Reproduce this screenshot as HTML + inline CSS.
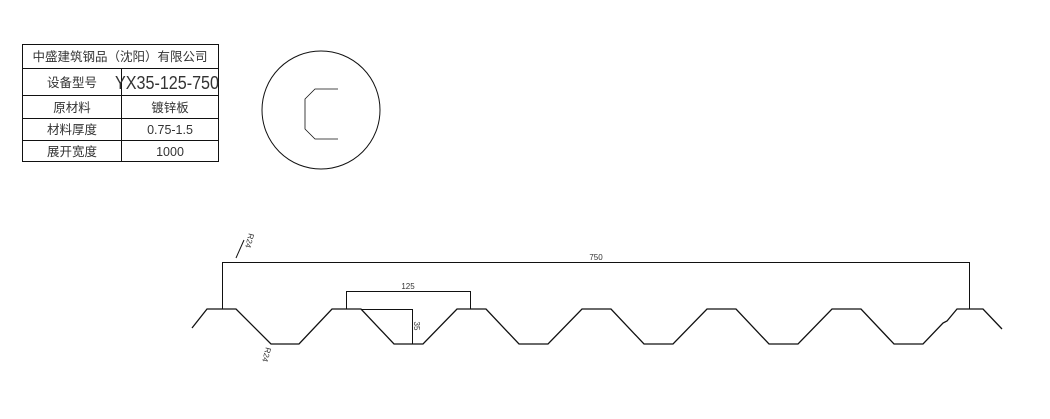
<!DOCTYPE html>
<html><head><meta charset="utf-8"><style>
body{margin:0;background:#fff;width:1050px;height:414px;overflow:hidden}
svg text{font-family:"Liberation Sans","Noto Sans CJK SC",sans-serif;fill:#333}
</style></head><body>
<svg width="1050" height="414" viewBox="0 0 1050 414">
<g stroke="#111" stroke-width="1" fill="none">
<rect x="22.5" y="44.5" width="196" height="117"/>
<line x1="22" y1="68.5" x2="218" y2="68.5"/>
<line x1="22" y1="95.5" x2="218" y2="95.5"/>
<line x1="22" y1="118.5" x2="218" y2="118.5"/>
<line x1="22" y1="140.5" x2="218" y2="140.5"/>
<line x1="121.5" y1="68" x2="121.5" y2="161"/>
<circle cx="321" cy="110" r="59"/>
<polyline points="338,89 315,89 305,99 305,129 315,139 338,139" stroke-width="0.8"/>
<polyline stroke-width="1.3" points="192,328 207,309 236,309 271,344 299,344 332,309 361,309 394,344 423,344 457,309 486,309 519,344 548,344 582,309 611,309 644,344 673,344 707,309 736,309 769,344 798,344 832,309 861,309 894,344 923,344 943,323 947,321 957,309 983,309 1002,329"/>
<line x1="222" y1="262.5" x2="969" y2="262.5"/>
<line x1="222.5" y1="262" x2="222.5" y2="309"/>
<line x1="969.5" y1="262" x2="969.5" y2="309"/>
<line x1="346" y1="291.5" x2="470" y2="291.5"/>
<line x1="346.5" y1="291" x2="346.5" y2="309"/>
<line x1="470.5" y1="291" x2="470.5" y2="309"/>
<line x1="361" y1="309.5" x2="412" y2="309.5"/>
<line x1="412.5" y1="309" x2="412.5" y2="344"/>
<line x1="236" y1="258" x2="244" y2="240"/>
</g>
<g font-size="12.5" text-anchor="middle">
<text x="120" y="61">中盛建筑钢品（沈阳）有限公司</text>
<text x="72" y="87">设备型号</text>
<text x="72" y="112">原材料</text>
<text x="170" y="112">镀锌板</text>
<text x="72" y="134">材料厚度</text>
<text x="170" y="134">0.75-1.5</text>
<text x="72" y="156">展开宽度</text>
<text x="170" y="156">1000</text>
</g>
<text x="115" y="89" font-size="18" textLength="104" lengthAdjust="spacingAndGlyphs">YX35-125-750</text>
<g font-size="8" text-anchor="middle">
<text x="596" y="260">750</text>
<text x="408" y="289">125</text>
<text transform="translate(414,326) rotate(90)">35</text>
<text transform="translate(247,240) rotate(105)">R24</text>
<text transform="translate(264,354) rotate(105)">R24</text>
</g>
</svg>
</body></html>
